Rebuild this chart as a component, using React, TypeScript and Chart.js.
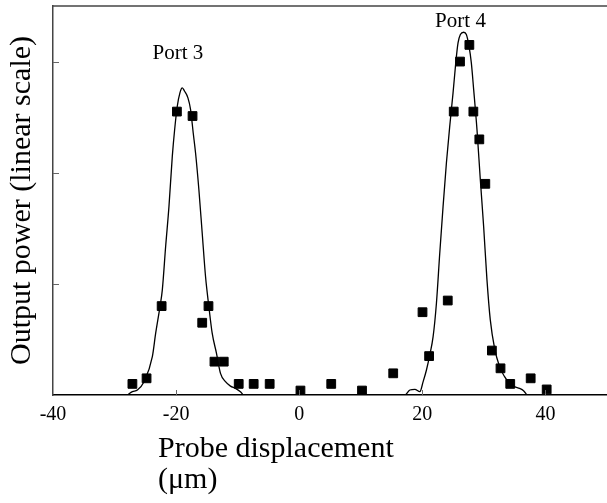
import React, { useEffect, useRef } from "react";
import { Chart, registerables } from "chart.js";

Chart.register(...registerables);

// Fitted curve (solid line)
const curveX = [
  -27.91, -27.1, -26.29, -25.21, -23.86, -23.32, -22.62, -22.24, -21.7, -21.16, -20.62, -20.24, -19.81, -19.38,
  -19.0, -18.62, -18.08, -17.65, -17.22, -16.84, -16.3, -15.76, -15.22, -14.68, -14.14, -13.44, -12.79, -11.98,
  -11.17, -10.36, -9.55, -9.01,
  17.17, 17.98, 18.79, 19.6, 20.13, 20.67, 21.21, 21.75, 22.29, 22.83, 23.37, 23.91, 24.45, 24.99, 25.43, 25.8,
  26.18, 26.72, 27.15, 27.58, 27.96, 28.34, 28.88, 29.42, 29.96, 30.5, 31.04, 31.74, 32.55, 33.36, 34.17, 34.98,
  35.79, 36.44, 36.98,
];
const curveY = [
  0, 0.03, 0.045, 0.12, 0.345, 0.556, 0.796, 0.946, 1.336, 1.697, 2.147, 2.387, 2.598, 2.718,
  2.763, 2.733, 2.673, 2.568, 2.357, 2.177, 1.847, 1.456, 1.066, 0.796, 0.556, 0.375, 0.195, 0.12,
  0.08, 0.06, 0.03, 0,
  0, 0.045, 0.051, 0.03, 0.12, 0.225, 0.36, 0.525, 0.826, 1.276, 1.697, 2.087, 2.417, 2.718, 2.988, 3.168,
  3.243, 3.264, 3.243, 3.138, 2.988, 2.748, 2.387, 1.937, 1.516, 1.036, 0.676, 0.42, 0.255, 0.165, 0.105, 0.075,
  0.06, 0.039, 0,
];

// Measured points (squares)
const pointX = [
  -27.1, -24.8, -22.35, -19.87, -17.33, -15.76, -14.74, -13.77, -12.26, -9.83, -7.4, -4.8, 0.2, 5.2, 10.2,
  15.27, 20.03, 21.1, 24.13, 25.1, 26.12, 27.64, 28.29, 29.26, 30.23, 31.3, 32.7, 34.28, 37.6, 40.2,
];
const pointY = [
  0.1, 0.15, 0.8, 2.55, 2.51, 0.65, 0.8, 0.3, 0.3, 0.1, 0.1, 0.1, 0.04, 0.1, 0.04,
  0.195, 0.745, 0.35, 0.85, 2.55, 3.0, 3.15, 2.55, 2.3, 1.9, 0.4, 0.24, 0.1, 0.15, 0.05,
];

const xTicks = [-40, -20, 0, 20, 40];
const yTicks = [1, 2, 3];
const peakLabels = ["Port 3", "Port 4"];
const peakLabelX = [-19.7, 26.2];
const peakLabelY = [3.02, 3.31];
const xTitleLines = ["Probe displacement", "(\u03bcm)"];
const yTitle = "Output power (linear scale)";

const FONT = "'Liberation Serif', 'Times New Roman', serif";

const overlay = {
  id: "overlay",
  afterDraw(chart: any) {
    const { ctx, chartArea: a, scales } = chart;
    const sx = scales.x;
    const sy = scales.y;
    ctx.save();
    // top frame line
    ctx.strokeStyle = "#444";
    ctx.lineWidth = 1.5;
    ctx.beginPath();
    ctx.moveTo(a.left, a.top);
    ctx.lineTo(a.right, a.top);
    ctx.stroke();
    // inward tick marks
    ctx.strokeStyle = "#666";
    ctx.lineWidth = 1;
    ctx.beginPath();
    yTicks.forEach((v) => {
      const py = Math.round(sy.getPixelForValue(v)) + 0.5;
      ctx.moveTo(a.left, py);
      ctx.lineTo(a.left + 6, py);
    });
    xTicks.slice(1).forEach((v) => {
      const px = Math.round(sx.getPixelForValue(v)) + 0.5;
      ctx.moveTo(px, a.bottom);
      ctx.lineTo(px, a.bottom - 5);
    });
    ctx.stroke();
    // peak labels
    ctx.fillStyle = "#000";
    ctx.font = `21px ${FONT}`;
    ctx.textAlign = "center";
    ctx.textBaseline = "alphabetic";
    peakLabels.forEach((t, i) => {
      ctx.fillText(t, sx.getPixelForValue(peakLabelX[i]), sy.getPixelForValue(peakLabelY[i]));
    });
    // x-axis title (left aligned, two lines)
    ctx.font = `30px ${FONT}`;
    ctx.textAlign = "left";
    xTitleLines.forEach((t, i) => {
      ctx.fillText(t, 158, 457 + i * 31);
    });
    ctx.restore();
  },
};

export default function App() {
  const ref = useRef<HTMLCanvasElement | null>(null);

  useEffect(() => {
    if (!ref.current) return;
    const chart = new Chart(ref.current, {
      type: "scatter",
      data: {
        datasets: [
          {
            type: "line",
            label: "fit",
            data: curveX.map((x, i) => ({ x, y: curveY[i] })),
            borderColor: "#000",
            borderWidth: 1.3,
            pointRadius: 0,
            fill: false,
            cubicInterpolationMode: "monotone",
            order: 2,
          } as any,
          {
            label: "measured",
            data: pointX.map((x, i) => ({ x, y: pointY[i] })),
            pointStyle: "rect",
            pointRadius: 6.2,
            backgroundColor: "#000",
            borderColor: "#000",
            borderWidth: 1,
            order: 1,
          },
        ],
      },
      options: {
        animation: false,
        responsive: false,
        devicePixelRatio: 1,
        layout: { autoPadding: false, padding: { top: 6, right: 0, left: 0, bottom: 0 } },
        plugins: {
          legend: { display: false },
          tooltip: { enabled: false },
        },
        scales: {
          x: {
            type: "linear",
            min: -40,
            max: 50,
            afterBuildTicks: (s: any) => {
              s.ticks = xTicks.map((v) => ({ value: v }));
            },
            afterFit: (s: any) => {
              s.height = 108;
            },
            ticks: {
              color: "#000",
              font: { family: FONT, size: 20 },
              padding: 8,
              maxRotation: 0,
            },
            grid: { display: false, drawTicks: false },
            border: { display: true, color: "#000", width: 1.5 },
          },
          y: {
            type: "linear",
            min: 0,
            max: 3.5,
            afterFit: (s: any) => {
              s.width = 53;
            },
            ticks: { display: false, stepSize: 1 },
            grid: { display: false, drawTicks: false },
            border: { display: true, color: "#444", width: 1.5 },
            title: {
              display: true,
              text: yTitle,
              color: "#000",
              font: { family: FONT, size: 30 },
              padding: { top: 4, bottom: 0 },
            },
          },
        },
      },
      plugins: [overlay],
    });
    return () => chart.destroy();
  }, []);

  return (
    <div style={{ position: "absolute", left: 0, top: 0, width: 607, height: 503, background: "#fff" }}>
      <canvas ref={ref} width={607} height={503} style={{ display: "block" }} />
    </div>
  );
}
